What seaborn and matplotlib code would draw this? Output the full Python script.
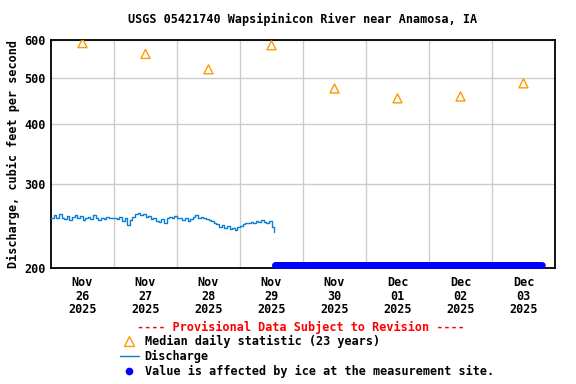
import numpy as np
import pandas as pd
import matplotlib
matplotlib.use("Agg")
import matplotlib.pyplot as plt
import matplotlib.dates as mdates
from matplotlib.ticker import FixedLocator, ScalarFormatter, NullLocator
from matplotlib.lines import Line2D
import seaborn as sns

# daily median statistic (23 years), plotted at noon of each day
median_days = ["2025-11-26", "2025-11-27", "2025-11-28", "2025-11-29",
               "2025-11-30", "2025-12-01", "2025-12-02", "2025-12-03"]
median_values = [591, 561, 521, 585, 475, 453, 457, 487]

# hourly discharge, Nov 26 00:00 onwards
discharge_start = "2025-11-26 00:00"
discharge_values = [
    255, 258, 254, 259, 255, 253, 257, 252, 256, 258, 254, 257,
    252, 255, 256, 253, 258, 254, 252, 255, 253, 256, 255, 254,
    255, 253, 256, 251, 254, 246, 252, 256, 259, 261, 258, 260,
    256, 257, 253, 255, 251, 250, 253, 249, 254, 256, 255, 257,
    255, 254, 252, 255, 251, 253, 256, 258, 255, 256, 254, 253,
    252, 251, 249, 247, 244, 246, 243, 245, 241, 243, 240, 244,
    245, 247, 249, 248, 250, 249, 251, 250, 252, 250, 249, 251,
    244, 238,
]

# ice-affected period
ice_start = "2025-11-29 13:15"
ice_end = "2025-12-03 19:00"
ice_value = 203

yticks = [200, 300, 400, 500, 600]
title = "USGS 05421740 Wapsipinicon River near Anamosa, IA"

median_df = pd.DataFrame({
    "time": pd.to_datetime(median_days) + pd.Timedelta(hours=12),
    "value": median_values,
})
discharge_df = pd.DataFrame({
    "time": pd.date_range(discharge_start, periods=len(discharge_values), freq="h"),
    "value": discharge_values,
})
ice_times = pd.date_range(ice_start, ice_end, freq="15min")
ice_df = pd.DataFrame({"time": ice_times, "value": [ice_value] * len(ice_times)})

sns.set_style("white")
plt.rcParams["font.family"] = ["DejaVu Sans Mono"]
plt.rcParams["font.weight"] = "bold"
plt.rcParams["text.color"] = "black"
plt.rcParams["axes.labelcolor"] = "black"
plt.rcParams["xtick.color"] = "black"
plt.rcParams["ytick.color"] = "black"

fig = plt.figure(figsize=(5.76, 3.84), dpi=100)
ax = fig.add_axes([51 / 576, 1 - 268 / 384, 504 / 576, 228 / 384])

orange = "#ff9900"
line_blue = "#0a7fd4"
ice_blue = "#0000ff"

sns.lineplot(data=discharge_df, x="time", y="value", ax=ax, color=line_blue,
             linewidth=1.0, drawstyle="steps-post", zorder=3)
sns.scatterplot(data=ice_df, x="time", y="value", ax=ax, color=ice_blue,
                s=22, edgecolor=ice_blue, linewidth=0, clip_on=False, zorder=4)
sns.scatterplot(data=median_df, x="time", y="value", ax=ax, marker="^",
                facecolor="none", edgecolor=orange, linewidth=1.0, s=42, zorder=5)

ax.set_yscale("log")
ax.set_ylim(200, 600)
ax.yaxis.set_major_locator(FixedLocator(yticks))
ax.yaxis.set_major_formatter(ScalarFormatter())
ax.yaxis.set_minor_locator(NullLocator())

ax.set_xlim(pd.Timestamp("2025-11-26"), pd.Timestamp("2025-12-04"))
noon = pd.to_datetime(median_days) + pd.Timedelta(hours=12)
ax.set_xticks(noon)
ax.set_xticklabels([d.strftime("%b\n%d\n%Y") for d in pd.to_datetime(median_days)],
                   linespacing=1.05)
midnights = pd.date_range("2025-11-27", "2025-12-03", freq="D")
ax.xaxis.set_minor_locator(FixedLocator(mdates.date2num(midnights)))

ax.grid(False)
ax.grid(True, which="minor", axis="x", color="#cccccc", linewidth=1.0)
ax.grid(True, which="major", axis="y", color="#cccccc", linewidth=1.0)
ax.tick_params(which="both", length=0, labelsize=8.5, pad=4, labelcolor="black")
ax.tick_params(axis="x", pad=6)
for lab in ax.get_xticklabels() + ax.get_yticklabels():
    lab.set_fontweight("bold")
for sp in ax.spines.values():
    sp.set_color("black")
    sp.set_linewidth(1.3)

ax.set_xlabel("")
ax.set_ylabel("Discharge, cubic feet per second", fontsize=8.5, fontweight="bold",
              labelpad=3, color="black")
fig.text(303 / 576, 1 - 19 / 384, title, ha="center", va="center",
         fontsize=8.5, fontweight="bold", color="black")

fig.text(301 / 576, 1 - 327 / 384, "---- Provisional Data Subject to Revision ----",
         ha="center", va="center", color="red", fontsize=8.5, fontweight="bold")

handles = [
    Line2D([], [], marker="^", linestyle="none", markerfacecolor="none",
           markeredgecolor=orange, markersize=7),
    Line2D([], [], color=line_blue, linewidth=1.0),
    Line2D([], [], marker="o", linestyle="none", color=ice_blue, markersize=4.5),
]
labels = ["Median daily statistic (23 years)", "Discharge",
          "Value is affected by ice at the measurement site."]
leg = fig.legend(handles, labels, loc="upper left",
                 bbox_to_anchor=(114 / 576, 1 - 329 / 384), frameon=False,
                 prop={"size": 8.5, "weight": "bold"}, handlelength=1.6,
                 handletextpad=0.5, labelspacing=0.15, borderpad=0,
                 labelcolor="black")

fig.savefig("out.png", dpi=100)
